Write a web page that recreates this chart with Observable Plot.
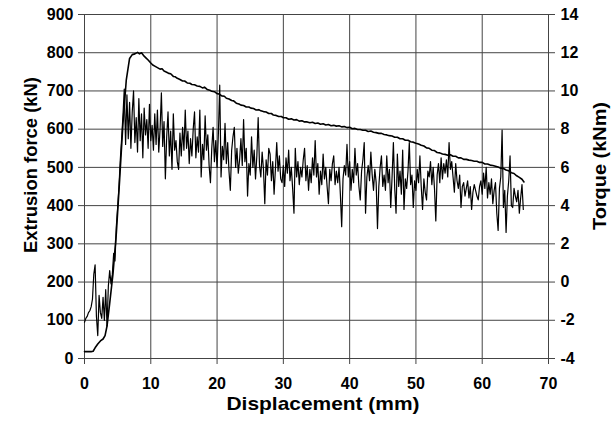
<!DOCTYPE html>
<html>
<head>
<meta charset="utf-8">
<script src="https://cdn.jsdelivr.net/npm/d3@7"></script>
<script src="https://cdn.jsdelivr.net/npm/@observablehq/plot@0.6"></script>
<style>
  html, body { margin: 0; padding: 0; background: #fff; }
  #chart svg { display: block; }
</style>
</head>
<body>
<div id="chart"></div>
<script>
// Tick labels
const xTicks = [0, 10, 20, 30, 40, 50, 60, 70];
const forceTicks = [0, 100, 200, 300, 400, 500, 600, 700, 800, 900];
const torqueTicks = [-4, -2, 0, 2, 4, 6, 8, 10, 12, 14];

// Axis titles
const xTitle = "Displacement (mm)";
const forceTitle = "Extrusion force (kN)";
const torqueTitle = "Torque (kNm)";

// Extrusion force (kN) vs displacement (mm)
const extrusionForce = [
  [0,18],[0.5,18],[1.0,18],[1.3,19],[1.6,28],[2.0,38],[2.4,46],[2.8,51],[3.1,60],[3.4,85],
  [3.8,144],[4.3,222],[4.8,327],[5.3,467],[5.8,615],[6.3,728],[6.8,785],[7.2,795],[7.6,797],
  [8.0,801],[8.3,797],[8.6,800],[9.0,791],[9.3,786],[9.6,781],[10.0,773],[10.3,768],[10.6,765],
  [11.0,761],[11.4,757],[11.7,758],[12.0,752],[12.4,749],[12.7,746],[13.0,745],[13.4,738],[13.7,737],
  [14.0,733],[14.4,730],[14.8,726],[15.1,726],[15.5,721],[15.9,720],[16.2,717],[16.6,716],[17.0,713],
  [17.4,712],[17.8,708],[18.1,710],[18.5,704],[18.9,702],[19.2,699],[19.6,698],[20.0,693],[20.3,692],
  [20.7,687],[21.1,686],[21.4,681],[21.8,679],[22.2,675],[22.5,674],[22.9,668],[23.3,666],[23.6,663],
  [24.0,662],[24.4,658],[24.8,658],[25.1,655],[25.5,654],[25.9,650],[26.3,651],[26.6,648],[27.0,646],
  [27.4,645],[27.8,641],[28.2,641],[28.5,637],[28.9,636],[29.3,633],[29.7,633],[30.0,630],[30.4,630],
  [30.8,626],[31.2,627],[31.6,624],[32.0,625],[32.4,621],[32.8,622],[33.2,619],[33.6,619],[34.0,617],
  [34.4,618],[34.8,615],[35.2,616],[35.6,613],[36.0,614],[36.4,611],[36.8,612],[37.2,609],[37.6,610],
  [38.0,608],[38.4,609],[38.8,606],[39.2,607],[39.6,604],[40.0,605],[40.4,601],[40.8,602],[41.2,599],
  [41.6,599],[42.0,597],[42.4,597],[42.8,594],[43.2,595],[43.6,592],[44.0,591],[44.4,589],[44.8,589],
  [45.2,586],[45.6,585],[46.0,583],[46.4,582],[46.8,579],[47.2,579],[47.6,575],[48.0,575],[48.4,571],
  [48.8,571],[49.2,567],[49.6,566],[50.0,563],[50.4,561],[50.8,558],[51.2,556],[51.6,551],[52.0,550],
  [52.4,545],[52.8,544],[53.2,539],[53.6,538],[54.0,535],[54.4,534],[54.8,532],[55.2,533],[55.6,529],
  [56.0,529],[56.4,525],[56.8,525],[57.2,521],[57.6,521],[58.0,519],[58.4,518],[58.8,516],[59.2,516],
  [59.6,513],[60.0,513],[60.4,509],[60.8,509],[61.2,506],[61.6,505],[62.0,503],[62.4,501],[62.8,498],
  [63.2,497],[63.6,493],[64.0,491],[64.4,486],[64.8,484],[65.2,478],[65.6,474],[66.0,469],[66.3,462]
];

// Torque (kNm) vs displacement (mm)
const torque = [
  [0.0,-2.1],[0.2,-1.9],[0.4,-1.8],[0.6,-1.6],[0.8,-1.5],[1.0,-1.3],[1.2,-0.9],[1.4,0.4],[1.6,0.9],[1.8,-1.8],
  [2.0,-2.8],[2.2,-0.7],[2.4,-1.6],[2.6,-1.9],[2.8,-0.8],[3.0,-2.0],[3.2,-0.4],[3.4,-2.3],[3.6,-0.2],[3.8,0.6],
  [4.0,-0.1],[4.2,0.4],[4.4,1.5],[4.6,1.1],[4.8,2.9],[5.0,3.9],[5.2,5.0],[5.4,6.4],[5.6,7.5],[5.8,8.7],
  [6.0,10.1],[6.2,7.2],[6.4,9.8],[6.6,7.5],[6.8,9.4],[7.0,7.0],[7.2,8.9],[7.4,10.0],[7.6,7.3],[7.8,8.6],
  [8.0,6.8],[8.2,9.6],[8.4,7.4],[8.6,8.8],[8.8,6.5],[9.0,9.1],[9.2,7.7],[9.4,8.5],[9.6,7.0],[9.8,9.3],
  [10.0,7.4],[10.2,8.2],[10.4,6.9],[10.6,8.8],[10.8,7.2],[11.0,9.0],[11.2,6.8],[11.4,8.0],[11.6,9.9],[11.8,7.1],
  [12.0,8.4],[12.2,5.4],[12.4,7.6],[12.6,8.9],[12.8,6.6],[13.0,7.9],[13.2,5.9],[13.4,8.8],[13.6,6.9],[13.8,7.4],
  [14.0,6.3],[14.2,5.9],[14.4,7.8],[14.6,6.6],[14.8,8.1],[15.0,6.9],[15.2,9.0],[15.4,7.0],[15.6,7.9],[15.8,6.2],
  [16.0,7.5],[16.2,6.6],[16.4,8.0],[16.6,8.9],[16.8,6.5],[17.0,7.6],[17.2,6.8],[17.4,9.0],[17.6,5.5],[17.8,7.2],
  [18.0,6.4],[18.2,8.7],[18.4,6.9],[18.6,7.7],[18.8,6.1],[19.0,5.2],[19.2,7.0],[19.4,8.1],[19.6,6.3],[19.8,7.4],
  [20.0,6.0],[20.2,7.8],[20.4,10.3],[20.6,5.5],[20.8,7.1],[21.0,6.4],[21.2,8.3],[21.4,6.2],[21.6,7.3],[21.8,5.8],
  [22.0,4.8],[22.2,6.9],[22.4,7.6],[22.6,8.1],[22.8,6.0],[23.0,7.0],[23.2,5.7],[23.4,6.4],[23.6,7.5],[23.8,6.1],
  [24.0,8.5],[24.2,6.3],[24.4,7.0],[24.6,4.5],[24.8,6.2],[25.0,5.6],[25.2,7.6],[25.4,6.0],[25.6,6.9],[25.8,5.4],
  [26.0,6.6],[26.2,8.6],[26.4,6.1],[26.6,5.5],[26.8,6.8],[27.0,5.9],[27.2,4.1],[27.4,6.4],[27.6,5.6],[27.8,7.0],
  [28.0,6.7],[28.2,5.3],[28.4,6.3],[28.6,4.6],[28.8,5.9],[29.0,7.3],[29.2,5.8],[29.4,6.6],[29.6,5.4],[29.8,5.2],
  [30.0,6.1],[30.2,5.0],[30.4,6.5],[30.6,5.7],[30.8,6.9],[31.0,5.3],[31.2,6.0],[31.4,4.9],[31.6,3.6],[31.8,7.0],
  [32.0,5.5],[32.2,6.3],[32.4,5.1],[32.6,6.0],[32.8,5.5],[33.0,6.4],[33.2,7.0],[33.4,5.3],[33.6,6.1],[33.8,4.8],
  [34.0,5.9],[34.2,5.2],[34.4,6.5],[34.6,5.6],[34.8,7.4],[35.0,5.5],[35.2,6.2],[35.4,4.6],[35.6,5.8],[35.8,5.1],
  [36.0,6.7],[36.2,5.4],[36.4,6.0],[36.6,5.0],[36.8,4.1],[37.0,5.9],[37.2,5.3],[37.4,6.2],[37.6,6.6],[37.8,5.1],
  [38.0,5.8],[38.2,5.2],[38.4,6.0],[38.6,4.6],[38.8,2.9],[39.0,5.4],[39.2,6.1],[39.4,5.6],[39.6,7.2],[39.8,5.5],
  [40.0,6.3],[40.2,4.8],[40.4,5.9],[40.6,5.2],[40.8,7.0],[41.0,5.6],[41.2,6.2],[41.4,5.0],[41.6,4.3],[41.8,5.8],
  [42.0,6.4],[42.2,7.3],[42.4,3.6],[42.6,5.5],[42.8,6.1],[43.0,5.3],[43.2,6.8],[43.4,5.6],[43.6,4.8],[43.8,5.9],
  [44.0,5.2],[44.2,2.8],[44.4,5.0],[44.6,6.0],[44.8,6.6],[45.0,5.0],[45.2,5.6],[45.4,4.8],[45.6,6.6],[45.8,5.2],
  [46.0,5.9],[46.2,3.9],[46.4,5.5],[46.6,7.3],[46.8,4.9],[47.0,3.6],[47.2,6.7],[47.4,5.0],[47.6,5.8],[47.8,4.6],
  [48.0,6.9],[48.2,3.8],[48.4,5.4],[48.6,4.9],[48.8,5.8],[49.0,7.3],[49.2,5.1],[49.4,5.6],[49.6,3.9],[49.8,5.3],
  [50.0,4.8],[50.2,5.9],[50.4,5.2],[50.6,6.6],[50.8,5.0],[51.0,3.8],[51.2,5.4],[51.4,4.7],[51.6,4.3],[51.8,5.8],
  [52.0,5.5],[52.2,6.3],[52.4,5.1],[52.6,6.0],[52.8,4.9],[53.0,3.2],[53.2,5.6],[53.4,6.2],[53.6,5.2],[53.8,6.5],
  [54.0,5.4],[54.2,6.2],[54.4,5.7],[54.6,6.4],[54.8,5.5],[55.0,7.3],[55.2,5.9],[55.4,6.3],[55.6,5.5],[55.8,4.7],
  [56.0,6.2],[56.2,5.3],[56.4,4.9],[56.6,5.6],[56.8,3.9],[57.0,5.0],[57.2,5.2],[57.4,4.5],[57.6,4.9],[57.8,5.3],
  [58.0,4.4],[58.2,5.0],[58.4,3.8],[58.6,4.7],[58.8,5.1],[59.0,4.8],[59.2,4.5],[59.4,4.3],[59.6,5.0],[59.8,5.3],
  [60.0,4.6],[60.2,5.7],[60.4,4.9],[60.6,6.0],[60.8,4.4],[61.0,5.2],[61.2,4.6],[61.4,5.4],[61.6,4.1],[61.8,4.8],
  [62.0,5.2],[62.2,3.6],[62.4,2.7],[62.6,4.9],[62.8,5.5],[63.0,7.95],[63.2,3.9],[63.4,4.8],[63.6,2.6],[63.8,4.5],
  [64.0,5.3],[64.2,6.6],[64.4,4.0],[64.6,3.9],[64.8,4.9],[65.0,4.5],[65.2,4.2],[65.4,4.8],[65.6,3.6],[65.8,4.4],
  [66.0,5.1],[66.2,3.8]
];

// Torque axis (-4..14) shares the force axis (0..900)
const toForce = (t) => (t - torqueTicks[0]) * (forceTicks[forceTicks.length - 1] / (torqueTicks[torqueTicks.length - 1] - torqueTicks[0]));

const W = 611, H = 421;
const gridColor = "#444";

const chart = Plot.plot({
  width: W,
  height: H,
  marginLeft: 84,
  marginRight: 63,
  marginTop: 14,
  marginBottom: 63,
  style: {
    fontFamily: "'Liberation Sans', Arial, Helvetica, sans-serif",
    fontSize: "16px",
    fontWeight: "bold",
    color: "#000",
    background: "#fff"
  },
  x: { domain: [0, 70] },
  y: { domain: [0, 900] },
  marks: [
    Plot.gridX(xTicks, { stroke: gridColor, strokeOpacity: 1, strokeWidth: 1 }),
    Plot.gridY(forceTicks, { stroke: gridColor, strokeOpacity: 1, strokeWidth: 1 }),
    Plot.axisX(xTicks, { anchor: "bottom", tickSize: 6, tickPadding: 13, label: null, stroke: gridColor }),
    Plot.axisY(forceTicks, { anchor: "left", tickSize: 6, tickPadding: 5, label: null, stroke: gridColor }),
    Plot.axisY(forceTicks, {
      anchor: "right", tickSize: 6, tickPadding: 6, label: null, stroke: gridColor,
      tickFormat: (d) => String(torqueTicks[forceTicks.indexOf(d)])
    }),
    Plot.line(torque, { x: (d) => d[0], y: (d) => toForce(d[1]), stroke: "#000", strokeWidth: 1.2 }),
    Plot.line(extrusionForce, { x: (d) => d[0], y: (d) => d[1], stroke: "#000", strokeWidth: 1.6 })
  ]
});

document.getElementById("chart").appendChild(chart);

// Axis titles as real text
const svg = d3.select(chart);
const titleFont = "'Liberation Sans', Arial, Helvetica, sans-serif";
svg.append("text")
  .attr("x", 323).attr("y", 410)
  .attr("text-anchor", "middle")
  .attr("font-family", titleFont).attr("font-weight", "bold").attr("font-size", 19)
  .attr("textLength", 193).attr("lengthAdjust", "spacingAndGlyphs")
  .attr("fill", "#000")
  .text(xTitle);
svg.append("text")
  .attr("transform", "translate(37,165) rotate(-90)")
  .attr("text-anchor", "middle")
  .attr("font-family", titleFont).attr("font-weight", "bold").attr("font-size", 18)
  .attr("textLength", 176).attr("lengthAdjust", "spacingAndGlyphs")
  .attr("fill", "#000")
  .text(forceTitle);
svg.append("text")
  .attr("transform", "translate(606,166) rotate(-90)")
  .attr("text-anchor", "middle")
  .attr("font-family", titleFont).attr("font-weight", "bold").attr("font-size", 18)
  .attr("textLength", 128).attr("lengthAdjust", "spacingAndGlyphs")
  .attr("fill", "#000")
  .text(torqueTitle);
</script>
</body>
</html>
